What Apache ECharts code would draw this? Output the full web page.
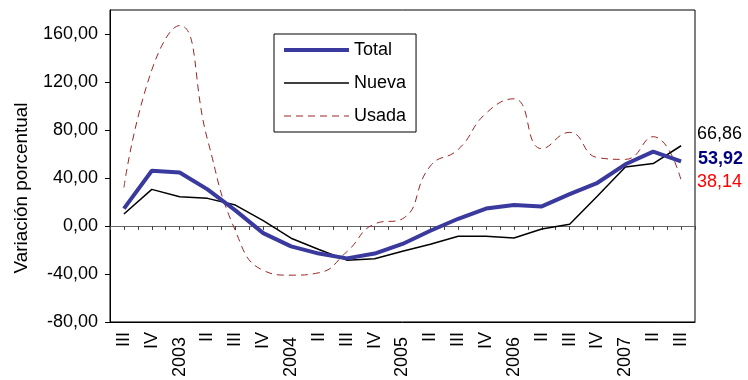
<!DOCTYPE html>
<html>
<head>
  <meta charset="UTF-8" />
  <title>Variación porcentual</title>
  <script src="https://cdn.jsdelivr.net/npm/echarts@6/dist/echarts.min.js"></script>
  <style>
    body { margin: 0; background: #fff; }
    #main { width: 748px; height: 380px; }
  </style>
</head>
<body>
  <div id="main"></div>
  <script>
    // trimestres 2002 III .. 2007 III (el trimestre I lleva el año)
    const quarters = ['III', 'IV', '2003', 'II', 'III', 'IV', '2004', 'II', 'III', 'IV',
                      '2005', 'II', 'III', 'IV', '2006', 'II', 'III', 'IV', '2007', 'II', 'III'];
    const total = [14.5, 46, 44.5, 30.5, 13, -6, -17, -23, -27, -23, -15,
                   -4, 6, 14.5, 17.5, 16.3, 26.5, 36, 51.4, 62, 53.92];
    const nueva = [10, 30.5, 24.3, 23, 17.4, 4.4, -10.2, -19.6, -28.5, -27.4, -21,
                   -15.2, -8.6, -8.6, -10, -2.5, 1.4, 25, 49.2, 52, 66.86];
    const usada = [32, 130, 167, 72, -4, -37, -41, -39, -21.5, 1.7, 6,
                   50, 63.8, 94, 106, 64.4, 78, 57, 55.5, 74.4, 38.14];
    const yTicks = [-80, -40, 0, 40, 80, 120, 160];

    const fmt = v => Number(v).toFixed(2).replace('.', ',');
    const font = 'Liberation Sans, Arial, sans-serif';

    const chart = echarts.init(document.getElementById('main'));
    chart.setOption({
      animation: false,
      textStyle: { fontFamily: font },
      grid: {
        left: 110, right: 53, top: 10, bottom: 57,
        show: true, borderColor: '#000', borderWidth: 1
      },
      legend: {
        orient: 'vertical',
        left: 274, top: 34,
        backgroundColor: '#fff',
        borderColor: '#000', borderWidth: 1,
        padding: [7, 10, 7, 8],
        itemWidth: 65, itemHeight: 18, itemGap: 15,
        itemStyle: { opacity: 0 },
        textStyle: { fontSize: 18, color: '#000', fontFamily: font },
        data: [
          { name: 'Total', lineStyle: { width: 4 } },
          { name: 'Nueva', lineStyle: { width: 1.5 } },
          { name: 'Usada', lineStyle: { width: 1 } }
        ]
      },
      graphic: [{
        type: 'text',
        x: 22, y: 188,
        rotation: Math.PI / 2,
        scaleX: 1.05,
        style: {
          text: 'Variación porcentual',
          font: '18px ' + font,
          fill: '#000',
          textAlign: 'center',
          textVerticalAlign: 'middle'
        }
      }],
      xAxis: [{
        type: 'category',
        data: quarters,
        position: 'bottom',
        boundaryGap: true,
        axisLine: { onZero: false, lineStyle: { color: '#000' } },
        axisTick: { show: false },
        axisLabel: {
          rotate: 90, interval: 0, margin: 10,
          fontSize: 18, color: '#000',
          formatter: v => /^\d{4}$/.test(v) ? v + ' ' : v
        }
      }, {
        type: 'category',
        data: quarters.flatMap(q => [q, q]),
        position: 'bottom',
        boundaryGap: true,
        axisLine: { onZero: true, lineStyle: { color: '#666', width: 1 } },
        axisTick: { show: true, interval: 0, length: 4, lineStyle: { color: '#444' } },
        axisLabel: { show: false }
      }],
      yAxis: {
        type: 'value',
        min: -80, max: 180, interval: 40,
        axisLine: { show: true, lineStyle: { color: '#000' } },
        axisTick: { show: true, length: 5, lineStyle: { color: '#000' } },
        splitLine: { show: false },
        axisLabel: {
          fontSize: 18, color: '#000', margin: 12,
          showMaxLabel: false,
          formatter: v => yTicks.includes(v) ? fmt(v) : ''
        }
      },
      series: [{
        name: 'Total', type: 'line', data: total,
        symbol: 'none',
        lineStyle: { color: '#3A3A9E', width: 4 },
        itemStyle: { color: '#3A3A9E' },
        z: 4,
        endLabel: {
          show: true, distance: 17, offset: [0, -2],
          formatter: p => fmt(p.value),
          color: '#000080', fontWeight: 'bold', fontSize: 18, fontFamily: font
        }
      }, {
        name: 'Nueva', type: 'line', data: nueva,
        symbol: 'none',
        lineStyle: { color: '#000', width: 1.5 },
        itemStyle: { color: '#000' },
        z: 3,
        endLabel: {
          show: true, distance: 16, offset: [0, -12],
          formatter: p => fmt(p.value),
          color: '#000', fontSize: 18, fontFamily: font
        }
      }, {
        name: 'Usada', type: 'line', data: usada,
        symbol: 'none', smooth: 0.5,
        lineStyle: { color: '#9B2525', width: 1, type: [7, 5] },
        itemStyle: { color: '#9B2525' },
        z: 2,
        endLabel: {
          show: true, distance: 16, offset: [0, 2],
          formatter: p => fmt(p.value),
          color: '#FF0000', fontSize: 18, fontFamily: font
        }
      }]
    });
  </script>
</body>
</html>
